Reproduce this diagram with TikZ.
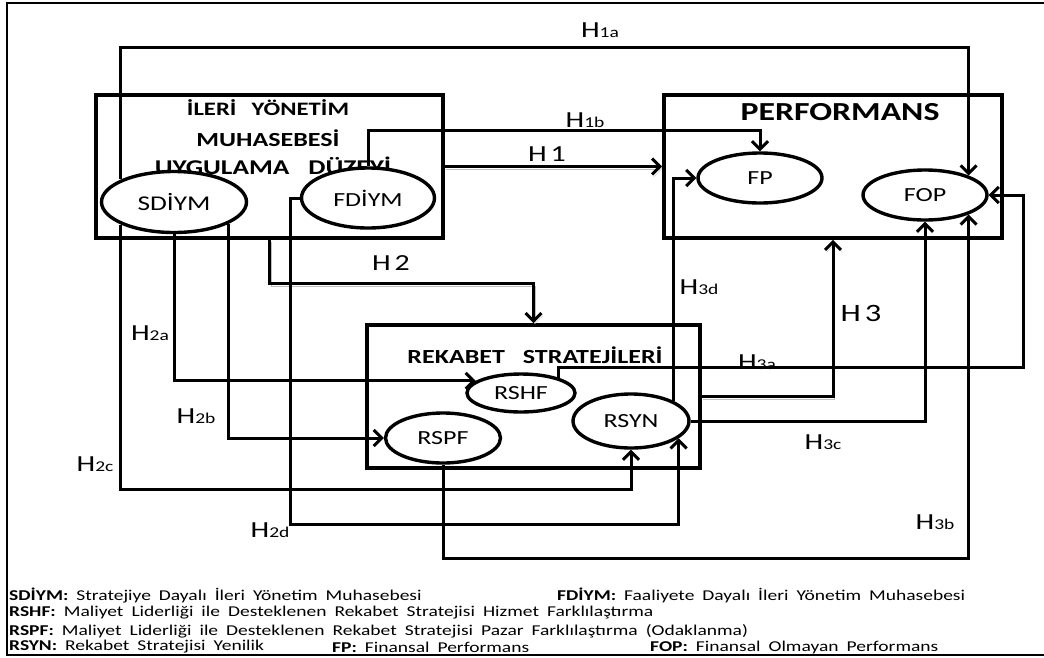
\documentclass[tikz,border=0pt]{standalone}
\usepackage{fontspec}
\setmainfont{Carlito}[FakeStretch=1.3]
\usetikzlibrary{arrows.meta,shapes.geometric,calc}
\newcommand{\genisbosluk}{\spaceskip 8pt plus 1pt\relax}
\tikzset{
    kutu/.style={rectangle, draw, line width=3.6pt, inner sep=0pt},
    elips/.style={ellipse, draw, line width=3.4pt, fill=white, inner sep=0pt},
    baslik/.style={font=\bfseries\fontsize{20}{20}\selectfont, inner sep=0pt},
    ok/.style={-{Straight Barb[length=8pt,width=16pt]}, line width=3pt},
    golge/.style={preaction={draw=black!25, transform canvas={shift={(1.5pt,-2.5pt)}}}},
    etiket/.style={font=\fontsize{23}{23}\selectfont, inner sep=0pt},
    aciklama/.style={font=\fontsize{15}{15}\selectfont\genisbosluk, anchor=west, inner sep=0pt}
}
\newcommand{\hipo}[1]{H{\fontsize{15}{15}\selectfont#1}}

\begin{document}
\begin{tikzpicture}[x=1pt, y=-1pt]
    \useasboundingbox (0,0) rectangle (1044,657);
    % cerceve
    \draw[line width=2pt] (1044,3) -- (7,3) -- (7,655) -- (1044,655);

    % kutular
    \node[kutu, minimum width=347, minimum height=143] (iym) at (269.5,166.5) {};
    \node[kutu, minimum width=338, minimum height=143] (perf) at (833,166.5) {};
    \node[kutu, minimum width=333, minimum height=143] (rek) at (533.5,396.5) {};

    \node[baslik, font=\bfseries\fontsize{19}{19}\selectfont] (iymb1) at (268,108) {İLERİ\hspace{0.8em}YÖNETİM};
    \node[baslik] (iymb2) at (268,138) {MUHASEBESİ};
    \node[baslik, font=\bfseries\fontsize{21}{21}\selectfont] (iymb3) at (273,166) {UYGULAMA\hspace{0.9em}DÜZEYİ};
    \node[baslik, font=\bfseries\fontsize{26}{26}\selectfont] (perfbaslik) at (840,112) {PERFORMANS};
    \node[baslik] (rekbaslik) at (535,355) {REKABET\hspace{0.9em}STRATEJİLERİ};

    % elipsler
    \node[elips, minimum width=145, minimum height=61, font=\fontsize{21}{21}\selectfont] (sdiym) at (174,202) {SDİYM};
    \node[elips, minimum width=133, minimum height=60, font=\fontsize{20}{20}\selectfont] (fdiym) at (368,198) {FDİYM};
    \node[elips, minimum width=124, minimum height=50, font=\fontsize{20}{20}\selectfont] (fp) at (760,178) {FP};
    \node[elips, minimum width=124, minimum height=50, font=\fontsize{20}{20}\selectfont] (fop) at (925,195) {FOP};
    \node[elips, minimum width=108, minimum height=38, font=\fontsize{20}{20}\selectfont] (rshf) at (521,393) {RSHF};
    \node[elips, minimum width=115, minimum height=50, font=\fontsize{20}{20}\selectfont] (rspf) at (443,438) {RSPF};
    \node[elips, minimum width=116, minimum height=54, font=\fontsize{20}{20}\selectfont] (rsyn) at (631,421) {RSYN};

    % baglantilar
    \draw[ok] (sdiym.157) -- (sdiym.157 |- 0,47) -| (fop.24);
    \draw[ok] (fdiym.north) -- ++(0,-36) -| (fp.north);
    \draw[ok, golge] (iym.east) -- (perf.west);
    \draw[ok, golge] (iym.south) -- ++(0,44) -| (rek.north);
    \draw[ok] (sdiym.south) |- (rshf.165);
    \draw[ok] (sdiym.-22) |- (rspf.west);
    \draw[ok] (sdiym.203) -- (sdiym.203 |- 0,489) -| (rsyn.south);
    \draw[ok] (fdiym.west) -- ++(-9,0) -- ++(0,326) -| (rsyn.-20);
    \draw[ok, golge] (rek.east) -| (perf.south);
    \draw[ok] (rshf.22) -- ++(0,-10) -| ($(fop.east)+(35,0)$) -- (fop.east);
    \draw[ok] (rspf.south) -- ++(0,94) -| (fop.-24);
    \draw[ok] (rsyn.east) -| (fop.south);
    \draw[ok] (rsyn.25) |- (fp.west);

    % etiketler
    \node[etiket] (h1a) at (600,30) {\hipo{1a}};
    \node[etiket] (h1b) at (585,120) {\hipo{1b}};
    \node[etiket] (h1) at (547,154) {H\,1};
    \node[etiket] (h2) at (391,263) {H\,2};
    \node[etiket] (h2a) at (150,333) {\hipo{2a}};
    \node[etiket] (h2b) at (196,416) {\hipo{2b}};
    \node[etiket] (h2c) at (95,464) {\hipo{2c}};
    \node[etiket] (h2d) at (270,530) {\hipo{2d}};
    \node[etiket, font=\fontsize{25}{25}\selectfont] (h3) at (861,313) {H\,3};
    \node[etiket] (h3a) at (757,362) {\hipo{3a}};
    \node[etiket] (h3b) at (935,522) {\hipo{3b}};
    \node[etiket] (h3c) at (823,442) {\hipo{3c}};
    \node[etiket] (h3d) at (699,287) {\hipo{3d}};

    % aciklamalar
    \node[aciklama] (a1) at (9,595) {\textbf{SDİYM:} Stratejiye Dayalı İleri Yönetim Muhasebesi};
    \node[aciklama] (a2) at (557,595) {\textbf{FDİYM:} Faaliyete Dayalı İleri Yönetim Muhasebesi};
    \node[aciklama] (a3) at (9,613) {\textbf{RSHF:} Maliyet Liderliği ile Desteklenen Rekabet Stratejisi Hizmet Farklılaştırma};
    \node[aciklama] (a4) at (9,631) {\textbf{RSPF:} Maliyet Liderliği ile Desteklenen Rekabet Stratejisi Pazar Farklılaştırma (Odaklanma)};
    \node[aciklama] (a5) at (9,647) {\textbf{RSYN:} Rekabet Stratejisi Yenilik};
    \node[aciklama] (a6) at (332,647) {\textbf{FP:} Finansal Performans};
    \node[aciklama] (a7) at (650,647) {\textbf{FOP:} Finansal Olmayan Performans};
\end{tikzpicture}
\end{document}
